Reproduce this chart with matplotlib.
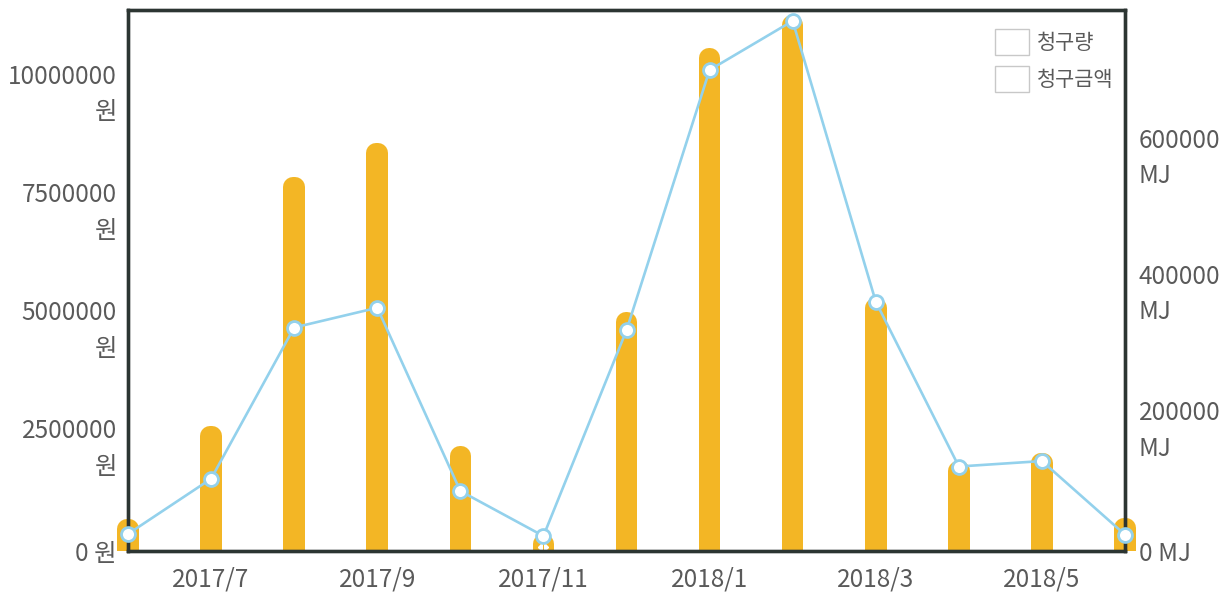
import matplotlib
matplotlib.use("Agg")
import matplotlib.pyplot as plt
from matplotlib.patches import Patch
from matplotlib.transforms import Bbox, TransformedBbox, ScaledTranslation

plt.rcParams['font.family'] = ['Noto Sans CJK KR', 'DejaVu Sans']
plt.rcParams['font.weight'] = 'light'

months = ['2017/6', '2017/7', '2017/8', '2017/9', '2017/10', '2017/11', '2017/12',
          '2018/1', '2018/2', '2018/3', '2018/4', '2018/5', '2018/6']
amount_won = [470000, 2440000, 7710000, 8430000, 2010000, 150000, 4850000,
              10440000, 11140000, 5150000, 1700000, 1860000, 480000]
quantity_mj = [25000, 106000, 328000, 357000, 88000, 22000, 324000,
               706000, 778000, 366000, 124000, 132000, 24000]

left_ticks = [0, 2500000, 5000000, 7500000, 10000000]
left_labels = ['0 원', '2500000\n원', '5000000\n원', '7500000\n원', '10000000\n원']
right_ticks = [0, 200000, 400000, 600000]
right_labels = ['0 MJ', '200000\nMJ', '400000\nMJ', '600000\nMJ']
xtick_labels = ['2017/7', '2017/9', '2017/11', '2018/1', '2018/3', '2018/5']

BAR = '#f3b625'
LINE = '#93d1ec'
TXT = '#5a5a5a'
SPINE = '#2c3532'

fig = plt.figure(figsize=(12.32, 5.94), dpi=100)
ax = fig.add_axes([128/1232, 1 - 551/594, (1125-128)/1232, (551-10)/594])
ax2 = ax.twinx()

x = list(range(len(months)))
bars = ax.bar(x, amount_won, width=0.02, color=BAR, edgecolor=BAR,
              linewidth=14.4, joinstyle='round', zorder=2)
clip = TransformedBbox(Bbox([[-0.05, 0.0], [1.05, 1.0]]), ax.transAxes)
for b in bars:
    b.set_clip_box(clip)

ax2.plot(x, quantity_mj, color=LINE, lw=1.9, marker='o', ms=10,
         mfc='white', mec=LINE, mew=2.0, zorder=3, clip_on=False)

ax.set_xlim(0, 12)
ax.set_ylim(0, 11450000)
ax2.set_ylim(0, 794000)

ax.set_yticks(left_ticks)
ax.set_yticklabels(left_labels)
ax2.set_yticks(right_ticks)
ax2.set_yticklabels(right_labels)
ax.set_xticks([1, 3, 5, 7, 9, 11])
ax.set_xticklabels(xtick_labels)

for a in (ax, ax2):
    a.tick_params(length=0, labelsize=17.5, labelcolor=TXT)
    for s in a.spines.values():
        s.set_color(SPINE)
        s.set_linewidth(2.4)
ax.tick_params(axis='y', pad=8)
ax2.tick_params(axis='y', pad=10)
ax.tick_params(axis='x', pad=11)

shift = ScaledTranslation(0, -8.5 / 100, fig.dpi_scale_trans)
for lab in ax.get_yticklabels() + ax2.get_yticklabels():
    lab.set_linespacing(1.47)
    if '\n' in lab.get_text():
        lab.set_transform(lab.get_transform() + shift)

ax.set_zorder(1)
ax2.set_zorder(2)
ax2.patch.set_visible(False)

handles = [Patch(facecolor='white', edgecolor='#c8c8c8', lw=1.0),
           Patch(facecolor='white', edgecolor='#c8c8c8', lw=1.0)]
leg = ax2.legend(handles, ['청구량', '청구금액'], loc='upper right',
                 bbox_to_anchor=(1.007, 1.0), frameon=False, fontsize=15,
                 handlelength=1.65, handleheight=1.55, handletextpad=0.35,
                 labelspacing=0.55, labelcolor=TXT)

fig.savefig('out.png', dpi=100, facecolor='white')
